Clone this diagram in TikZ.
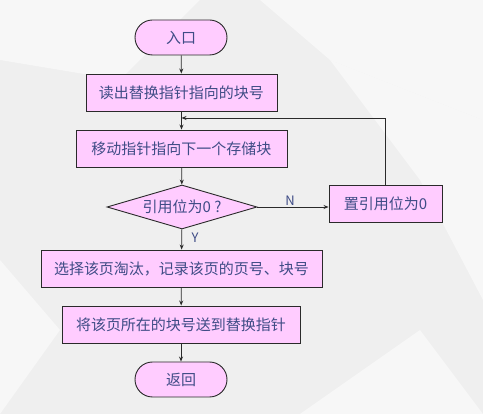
\documentclass[tikz,border=0pt]{standalone}
\usepackage{fontspec}
\setmainfont{Noto Sans CJK SC}
\usetikzlibrary{shapes.geometric,arrows.meta}
\definecolor{boxfill}{HTML}{FFCCFF}
\definecolor{txt}{HTML}{3F4C86}
\definecolor{bg}{HTML}{EFEFEF}
\definecolor{bgl}{HTML}{F7F7F7}
\definecolor{ln}{HTML}{2A2A2A}
\begin{document}
\begin{tikzpicture}[x=1pt,y=-1pt,
  every node/.style={font=\fontsize{15}{18}\selectfont, text=txt},
  procbox/.style={draw=ln, line width=0.9pt, fill=boxfill, inner sep=0pt},
  term/.style={procbox, rounded corners=17.5pt, minimum width=92pt, minimum height=35pt},
  decision/.style={draw=ln, line width=0.9pt, fill=boxfill, diamond, inner sep=0pt, minimum width=150pt, minimum height=44pt, aspect=3.4},
  conn/.style={draw=ln, line width=0.8pt, -{Stealth[length=5pt,width=4pt]}},
  lbl/.style={font=\fontsize{13}{15}\selectfont, text=txt}
]
\fill[bg] (0,0) rectangle (483,414);
\fill[bgl] (0,0) -- (200,0) -- (120,80) -- (0,60) -- cycle;
\fill[bgl] (260,0) -- (483,0) -- (483,120) -- (330,60) -- cycle;
\fill[white,opacity=0.5] (330,60) -- (483,120) -- (483,300) -- (420,180) -- cycle;
\fill[bgl] (0,260) -- (60,330) -- (0,414) -- cycle;
\fill[white,opacity=0.5] (300,414) -- (420,330) -- (483,414) -- cycle;
\useasboundingbox (0,0) rectangle (483,414);

\node[term] (entry) at (181,37.5) {入口};
\node[procbox, minimum width=191pt, minimum height=37pt] (read) at (181.5,92.5) {读出替换指针指向的块号};
\node[procbox, minimum width=211pt, minimum height=37pt] (move) at (181.5,148.5) {移动指针指向下一个存储块};
\node[decision] (dec) at (182,207) {引用位为0 ?};
\node[procbox, minimum width=113pt, minimum height=37pt] (set) at (385.5,203.5) {置引用位为0};
\node[procbox, minimum width=281pt, minimum height=37pt] (sel) at (181.5,268.5) {选择该页淘汰，记录该页的页号、块号};
\node[procbox, minimum width=238pt, minimum height=37pt] (send) at (181,324.5) {将该页所在的块号送到替换指针};
\node[term] (ret) at (181,379.5) {返回};
\coordinate (join) at (181.5,118);

\draw[conn] (entry) -- (read);
\draw[conn] (read) -- (move);
\draw[conn] (move) -- (dec);
\draw[conn] (dec.east) -- (set.west |- dec.east);
\draw[conn] (set.north) |- (join);
\draw[conn] (dec) -- (sel);
\draw[conn] (sel) -- (send);
\draw[conn] (send) -- (ret);

\node[lbl] (nlbl) at (290,201) {N};
\node[lbl] (ylbl) at (195,238) {Y};
\end{tikzpicture}
\end{document}
